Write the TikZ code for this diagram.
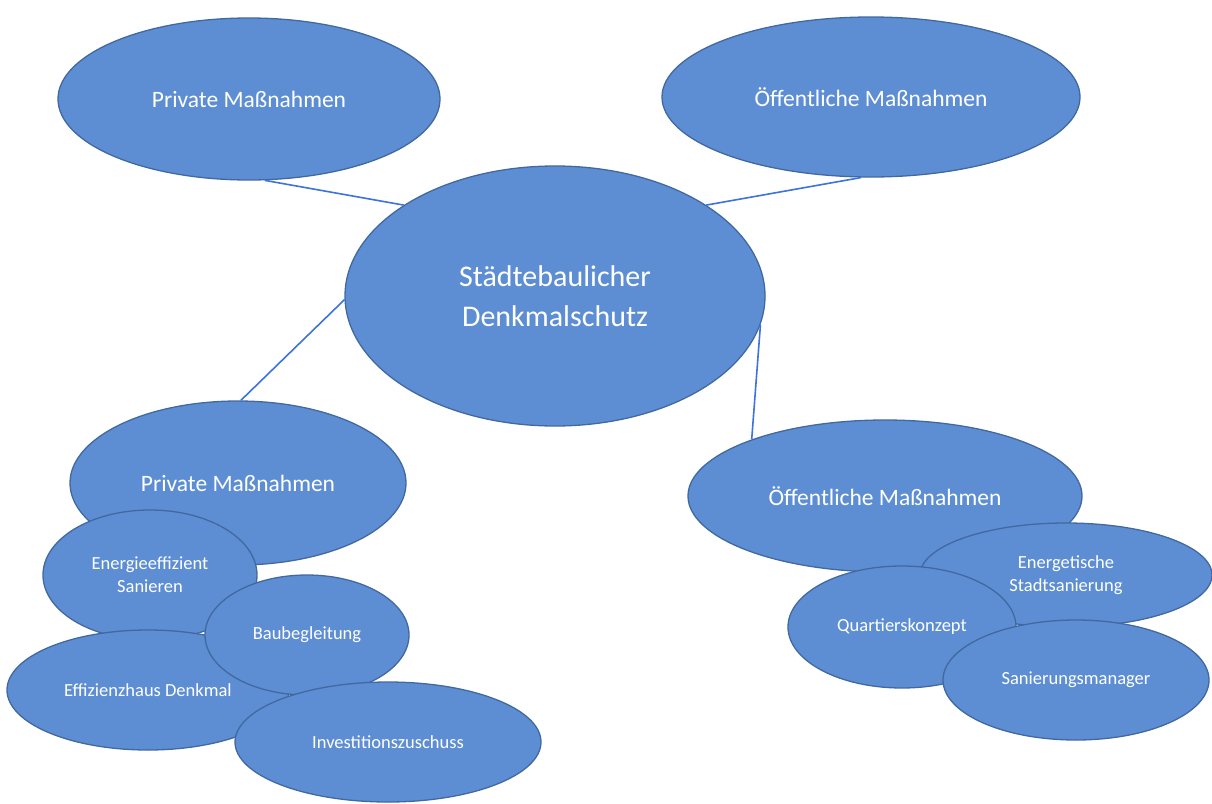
\documentclass[tikz,border=0pt]{standalone}
\usepackage{fontspec}
\setmainfont{Carlito}
\usetikzlibrary{shapes.geometric}
\definecolor{bubble}{RGB}{93,142,212}
\definecolor{rim}{RGB}{65,105,160}
\definecolor{link}{RGB}{60,115,220}
\tikzset{
  bub/.style={ellipse, fill=bubble, draw=rim, line width=1.3pt, inner sep=0pt, text=white, align=center},
  bigtxt/.style={font=\fontsize{23.5}{28}\selectfont},
  smalltxt/.style={font=\fontsize{18.5}{23}\selectfont},
  conn/.style={draw=link, line width=1.6pt}
}
\begin{document}
\begin{tikzpicture}[x=1pt,y=-1pt]
\useasboundingbox[fill=white] (0,0) rectangle (1212,803);
\node[bub, bigtxt, minimum width=382pt, minimum height=162pt] (tl) at (249,99) {Private Maßnahmen};
\node[bub, bigtxt, minimum width=418pt, minimum height=160pt] (tr) at (871,97) {Öffentliche Maßnahmen};
\node[bub, minimum width=420pt, minimum height=260pt, font=\fontsize{30}{40}\selectfont] (c) at (555,296) {Städtebaulicher\\Denkmalschutz};
\node[bub, bigtxt, minimum width=336pt, minimum height=164pt] (bl) at (238,483) {Private Maßnahmen};
\node[bub, bigtxt, minimum width=394pt, minimum height=152pt] (br) at (885,496) {Öffentliche Maßnahmen};
\draw[conn] (tl.-79) -- (c.149);
\draw[conn] (tr.-97) -- (c.31);
\draw[conn] (c.181) -- (bl.88);
\draw[conn] (c.-8) -- (br.157);
% left cluster
\node[bub, smalltxt, minimum width=214pt, minimum height=130pt] (ee) at (150,575) {Energieeffizient\\Sanieren};
\node[bub, smalltxt, minimum width=282pt, minimum height=120pt] (eh) at (148,690) {Effizienzhaus Denkmal};
\node[bub, smalltxt, minimum width=204pt, minimum height=120pt] (bb) at (307,635) {Baubegleitung};
\node[bub, smalltxt, minimum width=306pt, minimum height=120pt] (iz) at (388,742) {Investitionszuschuss};
% right cluster
\node[bub, smalltxt, minimum width=292pt, minimum height=104pt] (es) at (1066,575) {Energetische\\Stadtsanierung};
\node[bub, smalltxt, minimum width=228pt, minimum height=122pt] (qk) at (902,627) {Quartierskonzept};
\node[bub, smalltxt, minimum width=266pt, minimum height=120pt] (sm) at (1076,680) {Sanierungsmanager};
\end{tikzpicture}
\end{document}
